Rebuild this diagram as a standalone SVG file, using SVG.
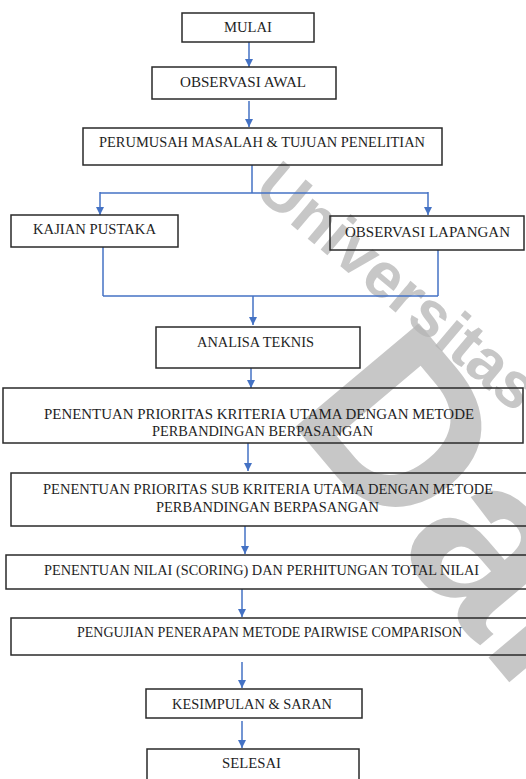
<svg xmlns="http://www.w3.org/2000/svg" width="526" height="779" viewBox="0 0 526 779">
<defs>
<style>
.box{fill:none;stroke:#2a2a2a;stroke-width:1.5}
.t{font-family:"Liberation Serif","Times New Roman",serif;font-size:15.5px;fill:#1e1e1e}
.c{fill:none;stroke:#4472C4;stroke-width:1.5}
.wm{font-family:"Liberation Sans",Arial,sans-serif;font-weight:bold;fill:#b4b4b4;fill-opacity:0.75}
</style>
<marker id="ah" markerUnits="userSpaceOnUse" markerWidth="9" markerHeight="9" refX="8" refY="4" orient="auto">
<path d="M0,0 L8,4 L0,8 z" fill="#4472C4"/>
</marker>
</defs>
<rect width="526" height="779" fill="#fff"/>
<g id="watermark">
<text class="wm" font-size="64" transform="translate(252,192) rotate(40)">Universitas</text>
<text class="wm" font-size="235" transform="translate(285,415) rotate(50)">Dar</text>
</g>
<g id="connectors">
<line class="c" x1="249" y1="42" x2="249" y2="67" marker-end="url(#ah)"/>
<line class="c" x1="249" y1="101" x2="249" y2="127" marker-end="url(#ah)"/>
<line class="c" x1="252" y1="165" x2="252" y2="193"/>
<line class="c" x1="100" y1="193" x2="428" y2="193"/>
<line class="c" x1="100" y1="192" x2="100" y2="215" marker-end="url(#ah)"/>
<line class="c" x1="428" y1="192" x2="428" y2="215" marker-end="url(#ah)"/>
<line class="c" x1="103" y1="247" x2="103" y2="296"/>
<line class="c" x1="438" y1="250" x2="438" y2="296"/>
<line class="c" x1="103" y1="296" x2="438" y2="296"/>
<line class="c" x1="253" y1="296" x2="253" y2="325" marker-end="url(#ah)"/>
<line class="c" x1="251" y1="368" x2="251" y2="388" marker-end="url(#ah)"/>
<line class="c" x1="248" y1="443" x2="248" y2="471" marker-end="url(#ah)"/>
<line class="c" x1="245" y1="526" x2="245" y2="554" marker-end="url(#ah)"/>
<line class="c" x1="242" y1="589" x2="242" y2="617" marker-end="url(#ah)"/>
<line class="c" x1="242" y1="662" x2="242" y2="688" marker-end="url(#ah)"/>
<line class="c" x1="242" y1="721" x2="242" y2="748" marker-end="url(#ah)"/>
</g>
<g id="mulai"><rect class="box" x="182" y="13" width="132" height="29"/><text class="t" x="224" y="32" textLength="48" lengthAdjust="spacingAndGlyphs">MULAI</text></g>
<g id="observasi-awal"><rect class="box" x="152" y="67" width="184" height="32"/><text class="t" x="180" y="87" textLength="126" lengthAdjust="spacingAndGlyphs">OBSERVASI AWAL</text></g>
<g id="perumusah"><rect class="box" x="83" y="128" width="359" height="37"/><text class="t" x="99" y="147" textLength="326" lengthAdjust="spacingAndGlyphs">PERUMUSAH MASALAH &amp; TUJUAN PENELITIAN</text></g>
<g id="kajian-pustaka"><rect class="box" x="11" y="215" width="167" height="32"/><text class="t" x="33" y="234" textLength="123" lengthAdjust="spacingAndGlyphs">KAJIAN PUSTAKA</text></g>
<g id="observasi-lapangan"><rect class="box" x="330" y="216" width="194" height="34"/><text class="t" x="345" y="237" textLength="165" lengthAdjust="spacingAndGlyphs">OBSERVASI LAPANGAN</text></g>
<g id="analisa-teknis"><rect class="box" x="156" y="327" width="204" height="41"/><text class="t" x="197" y="347" textLength="117" lengthAdjust="spacingAndGlyphs">ANALISA TEKNIS</text></g>
<g id="prioritas-kriteria"><rect class="box" x="3" y="388" width="520" height="55"/><text class="t" x="44" y="419" textLength="430" lengthAdjust="spacingAndGlyphs">PENENTUAN PRIORITAS KRITERIA UTAMA DENGAN METODE</text><text class="t" x="152" y="436" textLength="221" lengthAdjust="spacingAndGlyphs">PERBANDINGAN BERPASANGAN</text></g>
<g id="prioritas-sub-kriteria"><rect class="box" x="11" y="473" width="520" height="53"/><text class="t" x="43" y="494" textLength="450" lengthAdjust="spacingAndGlyphs">PENENTUAN PRIORITAS SUB KRITERIA UTAMA DENGAN METODE</text><text class="t" x="156" y="512" textLength="223" lengthAdjust="spacingAndGlyphs">PERBANDINGAN BERPASANGAN</text></g>
<g id="scoring"><rect class="box" x="6" y="555" width="525" height="34"/><text class="t" x="44" y="575" textLength="435" lengthAdjust="spacingAndGlyphs">PENENTUAN NILAI (SCORING) DAN PERHITUNGAN TOTAL NILAI</text></g>
<g id="pengujian"><rect class="box" x="11" y="618" width="520" height="37"/><text class="t" x="77" y="637" textLength="385" lengthAdjust="spacingAndGlyphs">PENGUJIAN PENERAPAN METODE PAIRWISE COMPARISON</text></g>
<g id="kesimpulan"><rect class="box" x="146" y="689" width="216" height="29"/><text class="t" x="172" y="709" textLength="160" lengthAdjust="spacingAndGlyphs">KESIMPULAN &amp; SARAN</text></g>
<g id="selesai"><rect class="box" x="147" y="749" width="212" height="40"/><text class="t" x="222" y="768" textLength="59" lengthAdjust="spacingAndGlyphs">SELESAI</text></g>
</svg>
